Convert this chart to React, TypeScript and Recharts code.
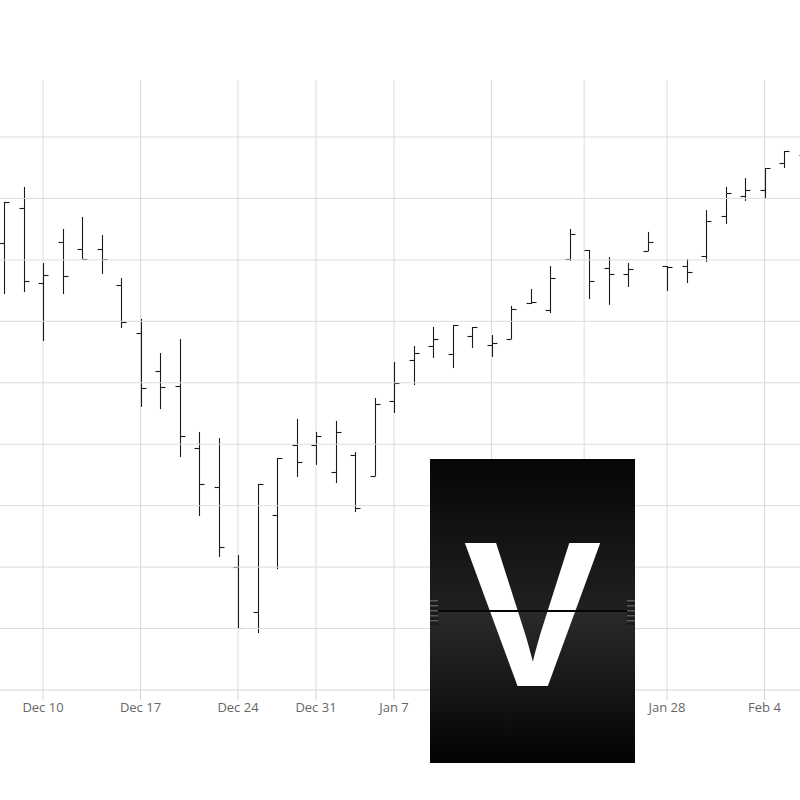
import React from 'react';
import { ComposedChart, Bar, XAxis, YAxis, CartesianGrid, ReferenceLine } from 'recharts';

const dates = [
  'Dec 6', 'Dec 7', 'Dec 10', 'Dec 11', 'Dec 12', 'Dec 13', 'Dec 14', 'Dec 17', 'Dec 18', 'Dec 19',
  'Dec 20', 'Dec 21', 'Dec 24', 'Dec 26', 'Dec 27', 'Dec 28', 'Dec 31', 'Jan 2', 'Jan 3', 'Jan 4',
  'Jan 7', 'Jan 8', 'Jan 9', 'Jan 10', 'Jan 11', 'Jan 14', 'Jan 15', 'Jan 16', 'Jan 17', 'Jan 18',
  'Jan 22', 'Jan 23', 'Jan 24', 'Jan 25', 'Jan 28', 'Jan 29', 'Jan 30', 'Jan 31', 'Feb 1', 'Feb 4',
  'Feb 5', 'Feb 6',
];

const openPrices = [
  138.19, 139.61, 136.56, 138.23, 137.94, 137.94, 136.48, 134.53, 132.98, 132.37,
  129.85, 128.26, 125.0, 123.17, 127.12, 129.97, 129.97, 128.87, 129.56, 128.71,
  131.76, 133.43, 134.0, 133.67, 134.4, 134.04, 134.28, 135.75, 135.46, 137.54,
  137.9, 137.17, 136.93, 137.86, 137.25, 137.25, 137.66, 139.29, 140.1, 140.35,
  141.44, 141.77,
];

const highPrices = [
  139.86, 140.47, 137.37, 138.76, 139.25, 138.51, 136.76, 135.1, 133.71, 134.28,
  130.5, 130.25, 125.49, 128.38, 129.44, 131.03, 130.5, 130.95, 129.68, 131.88,
  133.35, 134.0, 134.77, 134.85, 134.77, 134.44, 135.63, 136.32, 137.25, 138.76,
  137.9, 137.62, 137.37, 138.64, 137.25, 137.54, 139.53, 140.47, 140.83, 141.24,
  141.93, 141.97,
];

const lowPrices = [
  136.11, 136.19, 134.2, 136.11, 137.54, 136.93, 134.73, 131.52, 131.43, 129.48,
  127.08, 125.41, 122.52, 122.32, 124.92, 128.67, 129.16, 128.42, 127.24, 128.71,
  131.27, 132.41, 133.51, 133.1, 133.92, 133.55, 134.28, 135.71, 135.34, 137.46,
  135.91, 135.67, 136.4, 137.86, 136.24, 136.56, 137.42, 138.96, 139.9, 139.98,
  141.24, 141.36,
];

const closePrices = [
  139.86, 136.64, 136.89, 136.85, 137.54, 137.54, 134.97, 132.29, 132.33, 130.34,
  128.38, 125.82, 122.52, 128.38, 129.44, 129.28, 130.34, 130.5, 127.41, 131.64,
  132.49, 133.71, 134.28, 134.85, 134.77, 134.12, 135.5, 135.79, 136.76, 138.55,
  136.64, 136.93, 137.13, 138.23, 137.21, 137.01, 139.08, 140.22, 140.35, 141.24,
  141.93, 141.65,
];

// x positions are trading-day indices; "Jan 21" (market holiday) sits between Jan 18 and Jan 22
const tickPositions = [2, 7, 12, 16, 20, 25, 29.75, 34, 39];
const tickLabels = ['Dec 10', 'Dec 17', 'Dec 24', 'Dec 31', 'Jan 7', 'Jan 14', 'Jan 21', 'Jan 28', 'Feb 4'];
const priceTicks = [122.5, 125, 127.5, 130, 132.5, 135, 137.5, 140, 142.5];

const X_DOMAIN: [number, number] = [-5.3333, 45.9487];
const Y_DOMAIN: [number, number] = [120, 144.82];

const data = dates.map((d, i) => ({
  date: d,
  idx: i,
  open: openPrices[i],
  high: highPrices[i],
  low: lowPrices[i],
  close: closePrices[i],
  range: [lowPrices[i], highPrices[i]],
}));

const OhlcShape = (props: any) => {
  const { x, y, width, height, payload } = props;
  if (x == null || y == null || !payload) return null;
  const top = Math.min(y, y + height);
  const bottom = Math.max(y, y + height);
  const { open, high, low, close } = payload;
  const span = high - low;
  const toPx = (v: number) => (span > 0 ? top + ((high - v) / span) * (bottom - top) : top);
  const cx = Math.round(x + width / 2) + 0.5;
  const yo = Math.round(toPx(open)) + 0.5;
  const yc = Math.round(toPx(close)) + 0.5;
  return (
    <g stroke="#1a1a1a" strokeWidth={1.1} fill="none">
      <line x1={cx} y1={top} x2={cx} y2={bottom} />
      <line x1={cx - 5} y1={yo} x2={cx} y2={yo} />
      <line x1={cx} y1={yc} x2={cx + 5} y2={yc} />
    </g>
  );
};

const FlipCard = () => (
  <svg
    width={205}
    height={304}
    style={{ position: 'absolute', left: 430, top: 459 }}
  >
    <defs>
      <linearGradient id="cardTop" x1="0" y1="0" x2="0" y2="1">
        <stop offset="0" stopColor="#060606" />
        <stop offset="1" stopColor="#202020" />
      </linearGradient>
      <linearGradient id="cardBottom" x1="0" y1="0" x2="0" y2="1">
        <stop offset="0" stopColor="#2a2a2a" />
        <stop offset="1" stopColor="#030303" />
      </linearGradient>
    </defs>
    <rect x={0} y={0} width={205} height={152} fill="url(#cardTop)" />
    <rect x={0} y={152} width={205} height={152} fill="url(#cardBottom)" />
    <text
      x={102.5}
      y={227}
      textAnchor="middle"
      fill="#ffffff"
      fontFamily="'Liberation Sans', Arial, sans-serif"
      fontWeight="bold"
      fontSize={207}
    >
      V
    </text>
    <rect x={6} y={151} width={193} height={2} fill="#050505" />
    {[0, 197].map((hx) => (
      <g key={hx}>
        <rect x={hx} y={139} width={8} height={27} fill="#1c1c1c" />
        {[141, 146, 151, 156, 161].map((sy) => (
          <rect key={sy} x={hx} y={sy} width={8} height={1.5} fill="#5a5a5a" />
        ))}
      </g>
    ))}
  </svg>
);

export default function App() {
  return (
    <div
      style={{
        position: 'absolute',
        left: 0,
        top: 0,
        width: 800,
        height: 800,
        overflow: 'hidden',
        background: '#ffffff',
      }}
    >
      <div style={{ position: 'absolute', left: -100, top: 0 }}>
        <ComposedChart
          width={1000}
          height={800}
          data={data}
          margin={{ top: 80, right: 0, bottom: 80, left: 0 }}
        >
          <CartesianGrid stroke="#dcdcdc" horizontal={false} />
          {priceTicks.map((t) => (
            <ReferenceLine key={t} y={t} stroke="#dcdcdc" strokeWidth={1} ifOverflow="hidden" />
          ))}
          <XAxis
            dataKey="idx"
            type="number"
            domain={X_DOMAIN}
            allowDataOverflow
            ticks={tickPositions}
            interval={0}
            height={30}
            tickFormatter={(v: number) => tickLabels[tickPositions.indexOf(v)] ?? ''}
            axisLine={{ stroke: '#d4d4d4' }}
            tickLine={{ stroke: '#d4d4d4' }}
            tickSize={10}
            tickMargin={3}
            tick={{ fill: '#666666', fontSize: 13, fontFamily: "'Open Sans', sans-serif" }}
          />
          <YAxis hide type="number" domain={Y_DOMAIN} allowDataOverflow />
          <Bar dataKey="range" barSize={10} isAnimationActive={false} shape={OhlcShape} />
        </ComposedChart>
      </div>
      <FlipCard />
    </div>
  );
}
